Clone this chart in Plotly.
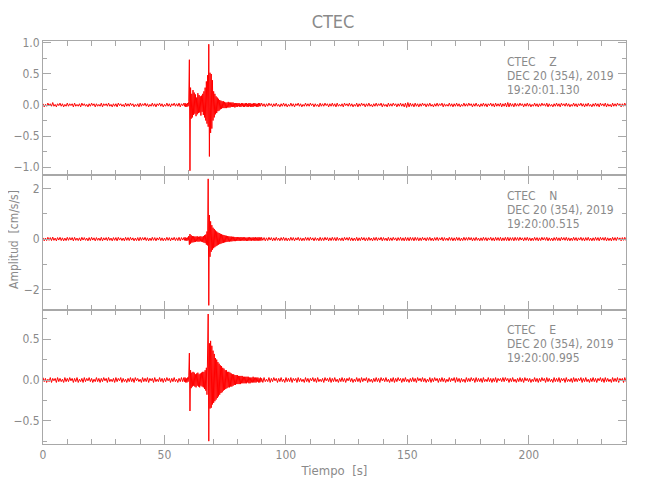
import numpy as np
import plotly.graph_objects as go
from plotly.subplots import make_subplots

# ---------------- data (amplitudes in units of 0.01 cm/s/s) ----------------
# Pre-event noise, sampled each 0.5 s from 0 to 58 s
z_pre = [2,-3,1,-2,3,-1,2,-2,4,-2,1,-3,2,-1,3,-2,2,-3,1,-2,
         3,-2,2,-1,2,-3,3,-2,1,-2,2,-3,3,-1,2,-2,1,-3,2,-2,
         3,-1,2,-3,2,-2,1,-2,3,-3,2,-1,2,-2,3,-2,1,-3,2,-2,
         2,-3,3,-1,2,-2,1,-3,3,-2,2,-2,3,-1,2,-3,1,-2,2,-3,
         3,-2,2,-1,3,-2,2,-3,1,-2,3,-2,2,-3,2,-1,3,-2,2,-3,
         1,-2,3,-2,2,-3,2,-1,3,-2,2,-2,3,-3,2,-1]
# Event window, sampled each 0.25 s from 58 s to 90 s
z_evt = [3,-2,3,-3, 2,-3,3,-2, 6,73,-106,28, -22,18,-20,24, -16,20,-14,17,
         -18,12,-15,19, -13,16,-12,14, -17,15,-11,18, -16,22,-20,28, -25,38,-30,48,
         -35,98,-83,52, -45,50,-38,40, -25,22,-20,18, -15,14,-13,12, -10,10,-9,8,
         -7,7,-6,6, -5,6,-5,5, -5,4,-5,4, -4,5,-4,4, -4,4,-3,4,
         -3,4,-3,3, -4,3,-3,3, -3,3,-2,3, -3,2,-3,3, -2,3,-3,2,
         -3,3,-2,3, -3,2,-3,3, -2,3,-3,2, -3,2,-3,3, -2,3,-2,2,
         -3,2,-3,3, -2,3,-2,2]
# Post-event noise, sampled each 0.5 s from 90 s to 240 s
z_post = [3,-2,2,-3,2,-2,3,-1,2,-3,2,-2,3,-2,1,-3,2,-2,3,-2,
          2,-3,1,-2,3,-2,2,-3,2,-1,3,-2,2,-3,1,-2,3,-2,2,-2,
          3,-1,2,-3,2,-2,1,-3,3,-2,2,-2,3,-1,2,-3,2,-2,3,-2,
          2,-3,3,-2,1,-2,2,-3,3,-1,2,-2,3,-2,2,-3,1,-2,3,-3,
          2,-2,3,-1,2,-3,2,-2,3,-2,1,-3,2,-2,3,-2,2,-1,3,-3,
          2,-2,1,-3,3,-2,2,-2,3,-1,2,-3,2,-2,3,-2,2,-3,3,-4,
          4,-3,3,-2,2,-3,3,-2,2,-3,2,-2,3,-1,2,-3,2,-2,3,-2,
          1,-3,2,-2,3,-2,2,-1,3,-3,2,-2,1,-2,3,-2,2,-3,2,-2,
          3,-2,2,-3,1,-2,3,-2,2,-2,3,-1,2,-3,2,-2,3,-2,1,-3,
          2,-2,3,-2,2,-3,2,-1,3,-2,2,-3,3,-2,2,-2,3,-3,2,-2,
          3,-3,4,-3,3,-2,2,-3,3,-2,2,-2,3,-1,2,-3,2,-2,3,-2,
          2,-3,1,-2,3,-2,2,-3,2,-2,3,-1,2,-2,3,-3,2,-2,1,-3,
          2,-2,3,-2,2,-3,3,-1,2,-2,3,-2,2,-3,1,-2,3,-2,2,-3,
          2,-1,3,-2,2,-3,2,-2,3,-2,1,-3,2,-2,3,-2,2,-3,3,-1,
          2,-2,3,-3,2,-2,1,-3,3,-2,2,-2,3,-1,2,-3,2,-2,3,-2]

n_pre = [5,-7,4,-6,7,-5,6,-6,8,-5,4,-7,6,-4,7,-6,5,-7,4,-6,
         7,-5,6,-4,6,-7,7,-5,4,-6,5,-7,7,-4,6,-5,4,-7,6,-6,
         7,-4,5,-7,6,-5,4,-6,7,-7,5,-4,6,-6,7,-5,4,-7,6,-5,
         6,-7,7,-4,5,-6,4,-7,7,-5,6,-6,7,-4,5,-7,4,-6,6,-7,
         7,-5,6,-4,7,-6,5,-7,4,-6,7,-5,6,-7,5,-4,7,-6,5,-7,
         4,-6,7,-5,6,-7,5,-4,7,-6,5,-6,7,-7,6,-4]
n_evt = [6,-5,7,-6, 5,-7,6,-5, 12,-22,20,-18, 15,-14,12,-13, 11,-12,10,-11,
         10,-9,11,-10, 9,-10,10,-9, 11,-10,9,-12, 12,-14,15,-16, 18,-22,30,-25,
         238,-262,95,-70, 70,-50,55,-42, 45,-36,40,-32, 34,-28,30,-25, 26,-22,24,-20,
         21,-18,19,-16, 17,-15,16,-13, 14,-12,13,-11, 12,-10,11,-10, 10,-9,10,-9,
         9,-8,9,-8, 8,-8,8,-7, 8,-7,7,-7, 7,-7,8,-6, 7,-6,7,-7,
         7,-6,6,-7, 6,-7,7,-6, 7,-6,6,-7, 6,-5,7,-6, 6,-7,7,-6,
         6,-6,7,-6, 7,-6,6,-6]
n_post = [7,-5,6,-7,5,-6,7,-4,6,-7,5,-6,7,-5,4,-7,6,-5,7,-6,
          5,-7,4,-6,7,-5,6,-7,5,-4,7,-6,5,-7,4,-6,7,-5,6,-6,
          7,-4,5,-7,6,-5,4,-7,7,-6,5,-6,7,-4,6,-7,5,-6,7,-5,
          6,-7,7,-5,4,-6,5,-7,7,-4,6,-5,7,-6,5,-7,4,-6,7,-7,
          5,-6,7,-4,6,-7,5,-6,7,-5,4,-7,6,-5,7,-6,5,-4,7,-7,
          6,-5,4,-7,7,-6,5,-6,7,-4,5,-7,6,-5,7,-6,5,-7,7,-6,
          6,-7,7,-5,6,-7,7,-5,6,-7,5,-6,7,-4,5,-7,6,-5,7,-6,
          4,-7,6,-5,7,-6,5,-4,7,-7,6,-5,4,-6,7,-5,6,-7,5,-6,
          7,-5,6,-7,4,-6,7,-5,6,-5,7,-4,6,-7,5,-6,7,-5,4,-7,
          5,-6,7,-5,6,-7,5,-4,7,-6,5,-7,7,-5,6,-6,7,-7,5,-6,
          7,-6,7,-7,6,-5,6,-7,7,-5,6,-6,7,-4,5,-7,6,-5,7,-6,
          5,-7,4,-6,7,-5,6,-7,5,-6,7,-4,6,-5,7,-7,5,-6,4,-7,
          6,-5,7,-6,5,-7,7,-4,6,-5,7,-6,5,-7,4,-6,7,-5,6,-7,
          5,-4,7,-6,5,-7,6,-5,7,-6,4,-7,5,-6,7,-5,6,-7,7,-4,
          6,-5,7,-7,5,-6,4,-7,7,-5,6,-6,7,-4,5,-7,6,-5,7,-6]

e_pre = [3,-2,2,-3,1,-2,3,-3,2,-1,2,-3,3,-2,2,-2,1,-3,3,-2,
         2,-2,3,-1,2,-3,2,-2,3,-3,1,-2,2,-3,3,-2,2,-1,3,-2,
         2,-3,1,-2,3,-2,2,-3,2,-2,3,-1,2,-3,3,-2,1,-2,2,-3,
         3,-2,2,-1,3,-3,2,-2,1,-3,2,-2,3,-2,2,-3,3,-1,2,-2,
         1,-3,3,-2,2,-2,3,-3,2,-1,2,-3,3,-2,1,-2,3,-2,2,-3,
         2,-2,3,-1,2,-3,2,-2,3,-2,1,-3,2,-2,3,-2]
e_evt = [3,-2,3,-3, 2,-3,3,-2, 5,33,-38,12, -10,9,-8,10, -7,9,-8,7,
         -9,8,-7,9, -8,7,-9,8, -7,9,-8,10, -9,10,-11,12, -13,15,-18,22,
         81,-75,45,-35, 48,-34,42,-30, 36,-28,32,-26, 27,-24,25,-22, 22,-20,20,-18,
         18,-16,17,-15, 15,-13,14,-12, 12,-11,12,-10, 10,-9,10,-9, 9,-8,8,-8,
         7,-7,7,-6, 6,-6,6,-5, 6,-5,5,-5, 5,-5,5,-4, 5,-4,4,-4,
         4,-4,4,-4, 4,-3,4,-4, 3,-4,3,-3, 3,-3,4,-3, 3,-3,3,-3,
         3,-2,3,-3, 2,-3,3,-2]
e_post = [2,-3,3,-2,1,-2,3,-3,2,-2,3,-1,2,-3,2,-2,3,-2,1,-3,
          3,-2,2,-2,3,-3,2,-1,2,-3,3,-2,2,-2,1,-3,3,-2,2,-3,
          2,-1,3,-2,2,-3,3,-2,1,-2,2,-3,3,-1,2,-2,3,-3,2,-2,
          3,-2,1,-3,2,-2,3,-2,2,-3,2,-1,3,-2,2,-3,1,-2,3,-2,
          2,-3,3,-2,2,-1,3,-3,2,-2,1,-3,2,-2,3,-2,2,-3,3,-1,
          2,-2,3,-2,1,-3,2,-2,3,-3,2,-2,3,-1,2,-3,2,-2,3,-2,
          1,-3,2,-2,3,-2,2,-3,3,-1,2,-2,3,-2,2,-3,1,-2,3,-3,
          2,-2,3,-1,2,-3,2,-2,3,-2,2,-3,1,-2,3,-2,2,-1,3,-3,
          3,-2,2,-3,2,-2,1,-3,3,-2,2,-2,3,-1,2,-3,3,-2,2,-2,
          2,-3,3,-2,1,-2,3,-2,2,-3,2,-2,3,-3,2,-1,2,-2,3,-2,
          3,-1,2,-3,2,-2,3,-2,1,-3,2,-2,3,-2,2,-3,3,-1,2,-2,
          2,-3,1,-2,3,-2,2,-3,2,-2,3,-1,2,-3,3,-2,2,-2,1,-3,
          3,-2,2,-2,3,-3,2,-1,2,-3,3,-2,1,-2,2,-3,3,-2,2,-2,
          2,-1,3,-3,2,-2,3,-2,1,-3,2,-2,3,-2,2,-3,2,-1,3,-2,
          2,-3,3,-2,2,-2,1,-3,3,-2,2,-2,3,-3,2,-1,2,-3,3,-2]

components = ["Z", "N", "E"]
start_times = ["19:20:01.130", "19:20:00.515", "19:20:00.995"]
station = "CTEC"
date_label = "DEC 20 (354), 2019"
x_ticks = [0, 50, 100, 150, 200]
y_ranges = [[-1.134, 1.032], [-2.79, 2.52], [-0.785, 0.863]]
y_dticks = [0.5, 2, 0.5]
y_minor = [0.25, 1, 0.25]
y_formats = [".1f", "d", ".1f"]

series = [(z_pre, z_evt, z_post), (n_pre, n_evt, n_post), (e_pre, e_evt, e_post)]

# ---------------- figure ----------------
FONT = "Liberation Sans Narrow, DejaVu Sans Condensed, Arial Narrow, sans-serif"
TXT = "#8a8a8a"
LINE = "#a8a8a8"

# the page body has an 8 px margin; plot area in page pixels: x 43..626, y 41..444
OFF = 8
PL, PR, PT, PB = 43 - OFF, 626 - OFF, 41 - OFF, 444 - OFF
PW, PH = PR - PL, PB - PT

fig = make_subplots(rows=3, cols=1, shared_xaxes=True, vertical_spacing=0)

for i, (pre, evt, post) in enumerate(series):
    t = np.concatenate([
        np.linspace(0, 58, len(pre), endpoint=False),
        58 + 0.25 * np.arange(len(evt)),
        np.linspace(90, 240, len(post)),
    ])
    v = np.array(pre + evt + post, dtype=float) * 0.01
    fig.add_trace(go.Scatter(x=t, y=v, mode="lines",
                             line=dict(color="#ff0000", width=1),
                             showlegend=False, hoverinfo="skip"),
                  row=i + 1, col=1)

for i in range(3):
    fig.update_xaxes(range=[0, 240], tickvals=x_ticks, ticks="inside", ticklen=9,
                     tickcolor=LINE, showline=True, linecolor=LINE, linewidth=1,
                     mirror="ticks", showgrid=False, zeroline=False,
                     minor=dict(dtick=10, tick0=0, ticks="inside", ticklen=5, tickcolor=LINE),
                     tickfont=dict(family=FONT, size=12, color=TXT),
                     row=i + 1, col=1)
    fig.update_yaxes(range=y_ranges[i], dtick=y_dticks[i], tick0=0, tickformat=y_formats[i],
                     ticks="inside", ticklen=8, tickcolor=LINE, showline=True,
                     linecolor=LINE, linewidth=1, mirror="ticks", showgrid=False,
                     zeroline=False,
                     minor=dict(dtick=y_minor[i], tick0=0, ticks="inside", ticklen=4,
                                tickcolor=LINE),
                     tickfont=dict(family=FONT, size=12, color=TXT),
                     row=i + 1, col=1)

fig.update_xaxes(title=dict(text="Tiempo  [s]", font=dict(family=FONT, size=13, color=TXT),
                            standoff=4), row=3, col=1)

annotations = []
panel_tops = [41, 175, 309]   # page pixels
for i in range(3):
    lines = [station + "\u00a0\u00a0\u00a0\u00a0" + components[i], date_label, start_times[i]]
    for k, txt in enumerate(lines):
        ypx = panel_tops[i] + 21 + 14 * k
        annotations.append(dict(text=txt, xref="paper", yref="paper",
                                x=(505 - 43) / 583, y=(444 - ypx) / 403,
                                xanchor="left", yanchor="middle", showarrow=False,
                                font=dict(family=FONT, size=12, color=TXT)))
annotations.append(dict(text="Amplitud  [cm/s/s]", xref="paper", yref="paper",
                        x=(14 - 43) / 583, y=(444 - 240) / 403, textangle=-90,
                        xanchor="center", yanchor="middle", showarrow=False,
                        font=dict(family=FONT, size=12, color=TXT)))

fig.update_layout(
    width=650, height=500,
    margin=dict(l=PL, r=650 - PR, t=PT, b=500 - PB, autoexpand=False),
    paper_bgcolor="white", plot_bgcolor="white",
    title=dict(text=station, x=(333 - OFF) / 650, xanchor="center",
               y=1 - (22 - OFF) / 500, yanchor="middle",
               font=dict(family=FONT, size=18, color=TXT)),
    annotations=annotations,
)

fig.write_html("out.html")
